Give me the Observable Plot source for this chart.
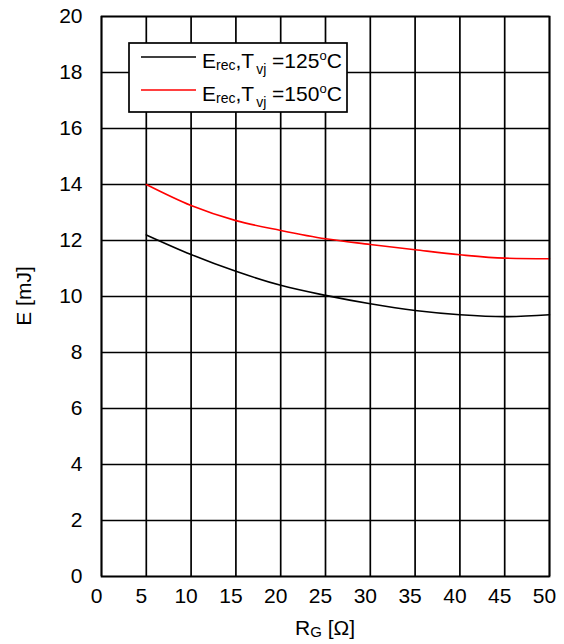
<!DOCTYPE html>
<html>
<head>
<meta charset="utf-8">
<script src="https://cdn.jsdelivr.net/npm/d3@7"></script>
<script src="https://cdn.jsdelivr.net/npm/@observablehq/plot@0.6"></script>
<style>
  html, body { margin: 0; padding: 0; background: white; }
</style>
</head>
<body>
<div id="chart"></div>
<script>
// ---- data ----
const rg = [5, 10, 15, 20, 25, 30, 35, 40, 45, 50];
const erec125 = [12.2, 11.5, 10.9, 10.4, 10.04, 9.74, 9.5, 9.35, 9.28, 9.35];
const erec150 = [14.0, 13.25, 12.71, 12.36, 12.06, 11.86, 11.67, 11.49, 11.37, 11.35];
const xTicks = [0, 5, 10, 15, 20, 25, 30, 35, 40, 45, 50];
const yTicks = [0, 2, 4, 6, 8, 10, 12, 14, 16, 18, 20];
const seriesTemps = ["125", "150"];
const seriesColors = ["black", "red"];

const rows = [
  ...rg.map((r, i) => ({rg: r, e: erec125[i], s: seriesTemps[0]})),
  ...rg.map((r, i) => ({rg: r, e: erec150[i], s: seriesTemps[1]}))
];

const FONT = "'Liberation Sans', Arial, sans-serif";

const plot = Plot.plot({
  width: 564,
  height: 644,
  marginLeft: 101,
  marginRight: 15,
  marginTop: 16,
  marginBottom: 68,
  style: {fontFamily: FONT, fontSize: "21px", color: "black", background: "white", overflow: "visible"},
  x: {domain: [0, 50]},
  y: {domain: [0, 20]},
  color: {domain: seriesTemps, range: seriesColors},
  marks: [
    Plot.gridX(xTicks, {stroke: "black", strokeOpacity: 1, strokeWidth: 1.7}),
    Plot.gridY(yTicks, {stroke: "black", strokeOpacity: 1, strokeWidth: 1.7}),
    Plot.axisX(xTicks, {tickSize: 0, tickPadding: 12, dx: -5, label: null, fontSize: 21}),
    Plot.axisY(yTicks, {tickSize: 0, tickPadding: 19, label: null, fontSize: 21}),
    Plot.line(rows, {x: "rg", y: "e", z: "s", stroke: "s", strokeWidth: 1.6, curve: "monotone-x"}),
    Plot.frame({stroke: "black", strokeWidth: 1.7})
  ]
});

document.getElementById("chart").appendChild(plot);

const svg = d3.select(plot);

// y axis title
svg.append("text")
  .attr("transform", "translate(24,296) rotate(-90)")
  .attr("text-anchor", "middle")
  .attr("dy", "0.35em")
  .attr("font-family", FONT)
  .attr("font-size", 21)
  .attr("fill", "black")
  .text("E [mJ]");

// x axis title R_G [Ω]
const xt = svg.append("text")
  .attr("x", 325).attr("y", 635)
  .attr("text-anchor", "middle")
  .attr("font-family", FONT)
  .attr("font-size", 21)
  .attr("fill", "black");
xt.append("tspan").text("R");
xt.append("tspan").attr("font-size", 15).attr("dy", 2).text("G");
xt.append("tspan").attr("dy", -2).text(" [Ω]");

// legend
const lg = svg.append("g").attr("text-anchor", "start");
lg.append("rect")
  .attr("x", 129).attr("y", 43).attr("width", 218).attr("height", 69)
  .attr("fill", "white").attr("stroke", "black").attr("stroke-width", 1.7);
seriesTemps.forEach((t, i) => {
  const yLine = 57 + i * 33;
  lg.append("line")
    .attr("x1", 141).attr("x2", 196).attr("y1", yLine).attr("y2", yLine)
    .attr("stroke", seriesColors[i]).attr("stroke-width", 1.6);
  const tx = lg.append("text")
    .attr("x", 202).attr("y", yLine + 11)
    .attr("text-anchor", "start")
    .attr("font-family", FONT).attr("font-size", 21).attr("fill", "black");
  tx.append("tspan").text("E");
  tx.append("tspan").attr("font-size", 14).attr("dy", 2).text("rec");
  tx.append("tspan").attr("dy", -2).text(",T");
  tx.append("tspan").attr("font-size", 14).attr("dy", 6).attr("dx", 2).text("vj");
  tx.append("tspan").attr("dy", -6).text(" =" + t);
  tx.append("tspan").attr("font-size", 13).attr("dy", -8).text("o");
  tx.append("tspan").attr("dy", 8).text("C");
});
</script>
</body>
</html>
